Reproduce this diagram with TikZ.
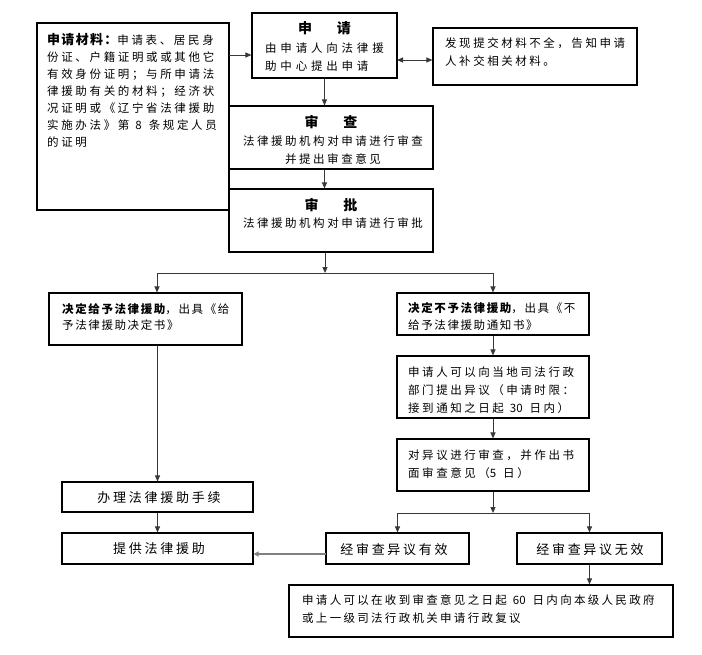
\documentclass[tikz,border=0pt]{standalone}
\usepackage{fontspec}
\setmainfont{Noto Sans CJK SC}
\newfontfamily\cjk{Noto Sans CJK SC}
\usetikzlibrary{arrows.meta}
\newcommand\cf[3]{\cjk\fontsize{#1}{#2}\selectfont\addfontfeature{LetterSpace=#3}}
\newcommand\dg[1]{\hspace{6pt}{\addfontfeature{LetterSpace=0}#1}\hspace{7pt}}
\newcommand\dgr[1]{{\addfontfeature{LetterSpace=0}#1}\hspace{7pt}}
\newcommand\mkbox[5]{\node[box,minimum width={(#4-#2)*1pt},minimum height={(#5-#3)*1pt}] (#1) at ({(#2+#4)/2},{(#3+#5)/2}) {};}
\begin{document}
\begin{tikzpicture}[x=1pt,y=-1pt,
  box/.style={draw=black,line width=1.1pt,inner sep=0pt},
  arr/.style={draw=black!78,line width=1pt,-{Triangle[length=6pt,width=5pt]}},
  darr/.style={draw=black!78,line width=1pt,{Triangle[length=6pt,width=5pt]}-{Triangle[length=6pt,width=5pt]}},
  gline/.style={draw=black!50,line width=2pt,-{Triangle[length=5pt,width=5pt]}},
  ln/.style={draw=black!78,line width=1pt},
  tx/.style={inner sep=0pt,anchor=north west,align=left},
  ttl/.style={inner sep=0pt,anchor=center,font={\cjk\fontsize{14}{16}\selectfont\bfseries}},
  big/.style={inner sep=0pt,anchor=center,font={\cf{13}{15}{21}}}
]
\fill[white] (0,0) rectangle (702,654);
\useasboundingbox (0,0) rectangle (702,654);

% boxes
\mkbox{mat}{37}{23}{229}{210}
\mkbox{req}{252}{13}{397}{78}
\mkbox{note}{433}{28}{637}{85}
\mkbox{rev}{229}{106}{433}{169}
\mkbox{appr}{229}{189}{433}{252}
\mkbox{give}{49}{293}{242}{345}
\mkbox{deny}{397}{293}{589}{335}
\mkbox{obj}{397}{356}{589}{418}
\mkbox{rvw}{397}{439}{589}{491}
\mkbox{valid}{326}{533}{469}{564}
\mkbox{inval}{517}{533}{662}{564}
\mkbox{recon}{289}{585}{673}{637}
\mkbox{do}{62}{482}{253}{512}
\mkbox{prov}{62}{533}{253}{564}

% texts
\node[tx,font={\cf{11.5}{17}{23}}] (matT) at (47,33.6)
  {{\fontsize{13}{17}\selectfont\bfseries\addfontfeature{LetterSpace=10}申请材料：}申请表、居民身\\
   份证、户籍证明或或其他它\\
   有效身份证明；与所申请法\\
   律援助有关的材料；经济状\\
   况证明或《辽宁省法律援助\\
   实施办法》第\dg{8}条规定人员\\
   的证明};
\node[ttl] (reqTi) at (324.5,28) {申\hspace{25pt}请};
\node[tx,font={\cf{11.5}{18}{33}}] (reqT) at (265,42.3) {由申请人向法律援\\助中心提出申请};
\node[tx,font={\cf{11.5}{18.5}{22}}] (noteT) at (445,37.3) {发现提交材料不全，告知申请\\人补交相关材料。};
\node[ttl] (revTi) at (331,122) {审\hspace{25pt}查};
\node[tx,anchor=north,align=center,font={\cf{11.5}{18}{22}}] (revT) at (333,135.3) {法律援助机构对申请进行审查\\并提出审查意见};
\node[ttl] (apprTi) at (331,205) {审\hspace{25pt}批};
\node[tx,anchor=north,align=center,font={\cf{11.5}{18}{22}}] (apprT) at (333,217.3) {法律援助机构对申请进行审批};
\node[tx,font={\cf{11.5}{16.5}{14}}] (giveT) at (62,303.3) {{\bfseries 决定给予法律援助}，出具《给\\予法律援助决定书》};
\node[tx,font={\cf{11.5}{17}{14}}] (denyT) at (408,302.3) {{\bfseries 决定不予法律援助}，出具《不\\给予法律援助通知书》};
\node[tx,font={\cf{11.5}{18}{22}}] (objT) at (408,366.3) {申请人可以向当地司法行政\\部门提出异议（申请时限：\\接到通知之日起\dg{30}日内）};
\node[tx,font={\cf{11.5}{18}{22}}] (rvwT) at (408,449.3) {对异议进行审查，并作出书\\面审查意见（\dgr{5}日）};
\node[big] (validT) at (394,550) {经审查异议有效};
\node[big] (invalT) at (590,550) {经审查异议无效};
\node[big] (doT) at (159,497.5) {办理法律援助手续};
\node[big] (provT) at (159,549) {提供法律援助};
\node[tx,font={\cf{11.5}{18}{20}}] (reconT) at (302,594.3) {申请人可以在收到审查意见之日起\dg{60}日内向本级人民政府\\或上一级司法行政机关申请行政复议};

% connectors
\coordinate (m1) at (229,55);
\coordinate (d1) at (397,60);
\draw[arr] (m1) -- (m1 -| req.west);
\draw[darr] (d1) -- (d1 -| note.west);
\draw[arr] (req.south) -- (req.south |- rev.north);
\draw[arr] (rev.south -| req.south) -- (appr.north -| req.south);
\coordinate (sp) at (325,273);
\coordinate (gl) at (157,273);
\draw[arr] (appr.south -| sp) -- (sp);
\draw[ln] (gl) -- (sp -| deny.north);
\draw[arr] (gl) -- (gl |- give.north);
\draw[arr] (sp -| deny.north) -- (deny.north);
\draw[arr] (give.south -| do.north) -- (do.north);
\draw[arr] (do.south) -- (prov.north);
\draw[arr] (deny.south) -- (obj.north);
\draw[arr] (obj.south) -- (rvw.north);
\coordinate (sp2) at (493,513);
\draw[arr] (rvw.south) -- (sp2);
\draw[ln] (sp2 -| valid.north) -- (sp2 -| inval.north);
\draw[arr] (sp2 -| valid.north) -- (valid.north);
\draw[arr] (sp2 -| inval.north) -- (inval.north);
\draw[arr] (inval.south) -- (inval.south |- recon.north);
\coordinate (g1) at (326,554);
\draw[gline] (g1) -- (g1 -| prov.east);
\end{tikzpicture}
\end{document}
